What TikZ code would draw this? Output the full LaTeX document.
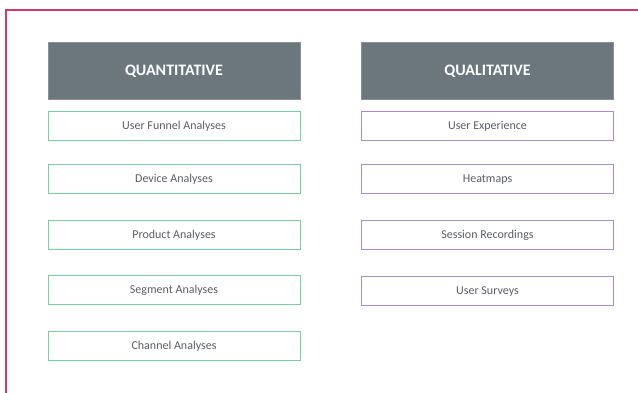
\documentclass[tikz,border=0pt]{standalone}
\usepackage{fontspec}
\setmainfont{Carlito}
\definecolor{hdrgray}{HTML}{6C767D}
\definecolor{qgreen}{HTML}{72D3A2}
\definecolor{qpurple}{HTML}{A98BD3}
\definecolor{framered}{HTML}{D93866}
\definecolor{txtgray}{HTML}{5A5F66}
\begin{document}
\begin{tikzpicture}[x=1pt,y=-1pt,
  hdr/.style={draw=hdrgray!80!white, fill=hdrgray, line width=0.8pt, minimum width=252pt, minimum height=57pt, inner sep=0pt, text depth=0pt, text=white, font=\fontsize{16}{18}\selectfont\bfseries},
  qbox/.style={draw=qgreen, line width=1pt, fill=white, minimum width=252pt, minimum height=29pt, inner sep=0pt, text depth=0pt, text=txtgray, font=\fontsize{12}{14}\selectfont},
  lbox/.style={qbox, draw=qpurple}]
\useasboundingbox (0,0) rectangle (638,392);
\draw[framered, line width=1.2pt] (6,400) -- (6,10) -- (650,10);
\node[hdr] (quant) at (174,70.5) {QUANTITATIVE};
\node[hdr] (qual) at (487.5,70.5) {QUALITATIVE};
\node[qbox] (q1) at (174,125.5) {User Funnel Analyses};
\node[qbox] (q2) at (174,178.5) {Device Analyses};
\node[qbox] (q3) at (174,234.5) {Product Analyses};
\node[qbox] (q4) at (174,289.5) {Segment Analyses};
\node[qbox] (q5) at (174,345.5) {Channel Analyses};
\node[lbox] (l1) at (487.5,125.5) {User Experience};
\node[lbox] (l2) at (487.5,178.5) {Heatmaps};
\node[lbox] (l3) at (487.5,234.5) {Session Recordings};
\node[lbox] (l4) at (487.5,290.5) {User Surveys};
\end{tikzpicture}
\end{document}
